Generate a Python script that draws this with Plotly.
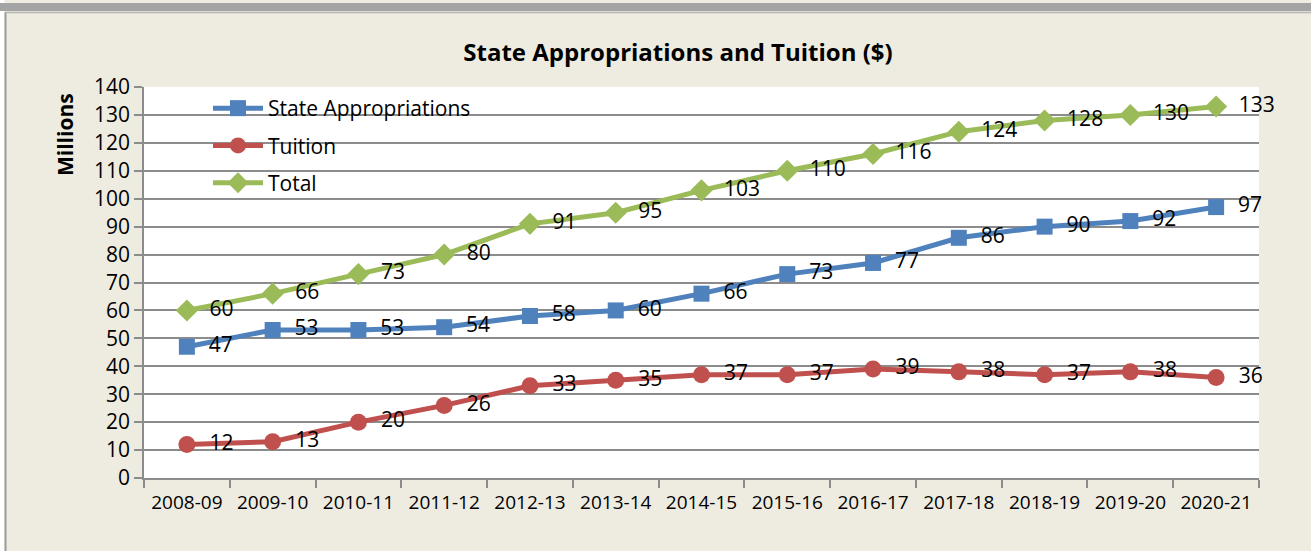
import plotly.graph_objects as go

# Fiscal years on the category axis
years = ["2008-09", "2009-10", "2010-11", "2011-12", "2012-13", "2013-14", "2014-15",
         "2015-16", "2016-17", "2017-18", "2018-19", "2019-20", "2020-21"]

# Amounts in millions of dollars
state_appropriations = [47, 53, 53, 54, 58, 60, 66, 73, 77, 86, 90, 92, 97]
tuition = [12, 13, 20, 26, 33, 35, 37, 37, 39, 38, 37, 38, 36]
total = [60, 66, 73, 80, 91, 95, 103, 110, 116, 124, 128, 130, 133]

y_ticks = list(range(0, 141, 10))

BLUE = "#4F81BD"
RED = "#C0504D"
GREEN = "#9BBB59"
BEIGE = "#EEECE1"
GRID = "#8C8C8C"
FONT = "Open Sans"

# Plot-area geometry in pixels (used to place the frame decorations)
W, H = 1311, 551
L, R, T, B = 144, 52, 87, 73
PW, PH = W - L - R, H - T - B


def px_x(p):
    return (p - L) / PW


def px_y(p):
    return (H - B - p) / PH


series = [
    ("State Appropriations", state_appropriations, BLUE, "square", 16),
    ("Tuition", tuition, RED, "circle", 17),
    ("Total", total, GREEN, "diamond", 17),
]

fig = go.Figure()
for i, (name, vals, color, symbol, size) in enumerate(series):
    fig.add_trace(go.Scatter(
        x=years, y=vals, name=name, mode="lines+markers+text",
        line=dict(color=color, width=5),
        marker=dict(color=color, symbol=symbol, size=size),
        text=["\u00a0\u00a0" + str(v) for v in vals],
        textposition="middle right",
        textfont=dict(family=FONT, size=21, color="black"),
        cliponaxis=False,
        legendgroup=f"g{i}",
    ))

shapes = [
    # white margin to the left of the chart frame
    dict(type="rect", xref="paper", yref="paper", x0=px_x(-2), x1=px_x(4.5),
         y0=px_y(H + 2), y1=px_y(-2), fillcolor="white", line=dict(width=0), layer="above"),
    # frame edge on the left
    dict(type="line", xref="paper", yref="paper", x0=px_x(5.5), x1=px_x(5.5),
         y0=px_y(H + 2), y1=px_y(12), line=dict(color="#9a9a9a", width=2), layer="above"),
    # bottom edge of the panel above
    dict(type="rect", xref="paper", yref="paper", x0=px_x(-2), x1=px_x(W + 2),
         y0=px_y(11), y1=px_y(3), fillcolor="#a4a4a4", line=dict(width=0), layer="above"),
    dict(type="line", xref="paper", yref="paper", x0=px_x(5), x1=px_x(W + 2),
         y0=px_y(12.5), y1=px_y(12.5), line=dict(color="#b5b5b5", width=1.5), layer="above"),
]

annotations = [
    dict(text="<b>Millions</b>", xref="paper", yref="paper",
         x=px_x(65), y=px_y(135), xanchor="center", yanchor="middle",
         textangle=-90, showarrow=False, font=dict(family=FONT, size=21, color="black")),
]

fig.update_layout(
    width=W, height=H,
    margin=dict(l=L, r=R, t=T, b=B, pad=0),
    paper_bgcolor=BEIGE,
    plot_bgcolor="white",
    font=dict(family=FONT, size=20, color="black"),
    title=dict(text="<b>State Appropriations and Tuition ($)</b>",
               font=dict(family=FONT, size=24, color="black"),
               x=678 / W, xanchor="center", xref="container",
               y=1 - 53 / H, yanchor="middle", yref="container"),
    showlegend=True,
    legend=dict(x=px_x(208), y=px_y(88), xanchor="left", yanchor="top",
                bgcolor="rgba(0,0,0,0)", font=dict(family=FONT, size=21),
                tracegroupgap=7, itemwidth=50, traceorder="grouped"),
    xaxis=dict(type="category", range=[-0.5, 12.5], tickson="boundaries",
               ticks="outside", ticklen=8, tickcolor=GRID, tickwidth=1.5,
               showline=True, linecolor=GRID, linewidth=1.5, showgrid=False,
               tickfont=dict(family=FONT, size=19), ticklabelstandoff=6),
    yaxis=dict(range=[0, 140], tickvals=y_ticks, ticks="outside", ticklen=8,
               tickcolor=GRID, tickwidth=1.5, showline=True, linecolor=GRID,
               linewidth=1.5, gridcolor=GRID, gridwidth=1.5, zeroline=False,
               tickfont=dict(family=FONT, size=21)),
    shapes=shapes,
    annotations=annotations,
)

fig.write_html("out.html")
